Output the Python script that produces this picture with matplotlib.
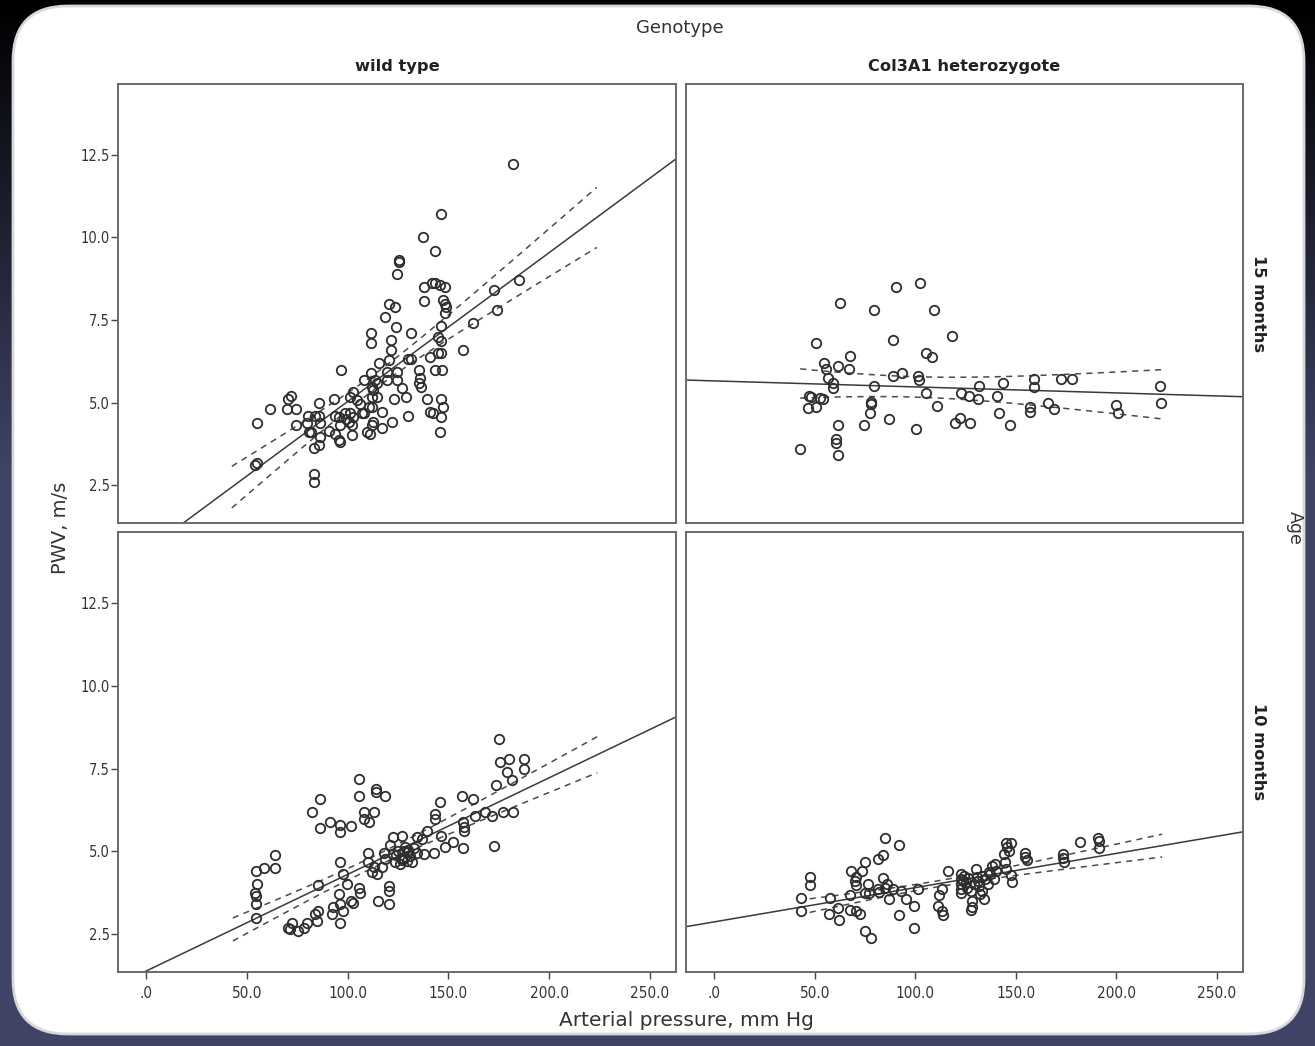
import numpy as np
import matplotlib
matplotlib.use("Agg")
import matplotlib.pyplot as plt
from matplotlib.patches import FancyBboxPatch

# PWV vs arterial pressure, split by genotype (columns) and age (rows)

# wild type, 15 months
wt15_x = [146.2, 137.6, 143.4, 125.7, 125.7, 124.7, 138.1, 141.8, 143.4, 145.6, 148.4, 138.1, 147.5,
          148.4, 148.7, 148.4, 120.3, 123.6, 118.6, 123.9, 111.5, 111.5, 131.4, 162.4, 157.5, 146.4,
          145.0, 146.4, 121.4, 121.4, 120.3, 115.6, 130.2, 131.4, 140.9, 145.0, 146.4, 96.8, 111.5,
          119.4, 124.4, 119.4, 124.4, 135.2, 136.0, 135.2, 136.5, 143.4, 146.7, 107.9, 113.7, 114.5,
          126.9, 128.9, 123.1, 139.6, 146.4, 147.5, 146.4, 140.9, 142.6, 145.9, 130.2, 116.9, 121.9,
          116.9, 111.2, 109.5, 102.1, 102.1, 100.5, 96.3, 96.3, 95.5, 90.8, 93.8, 86.4, 86.4, 85.9,
          83.5, 80.6, 81.9, 79.7, 84.0, 85.6, 80.2, 74.3, 85.6, 93.0, 93.8, 95.5, 99.1, 101.3, 102.9,
          104.6, 106.2, 107.1, 110.4, 112.0, 112.0, 114.5, 112.8, 112.0, 101.3, 102.9, 98.8, 108.3,
          112.8, 112.0, 61.5, 55.2, 70.6, 71.9, 69.8, 74.3, 55.2, 54.1, 83.4, 83.4, 182.1, 185.3,
          172.9, 174.3]
wt15_y = [10.71, 10.0, 9.6, 9.32, 9.27, 8.89, 8.51, 8.61, 8.61, 8.56, 8.51, 8.08, 8.10,
          8.0, 7.9, 7.7, 8.0, 7.9, 7.6, 7.3, 7.11, 6.79, 7.11, 7.4, 6.59, 7.32,
          7.0, 6.87, 6.89, 6.59, 6.29, 6.21, 6.31, 6.31, 6.39, 6.51, 6.51, 6.0, 5.9,
          5.93, 5.93, 5.68, 5.68, 6.0, 5.73, 5.58, 5.48, 6.0, 6.0, 5.68, 5.68, 5.58,
          5.43, 5.18, 5.12, 5.12, 5.12, 4.87, 4.57, 4.72, 4.67, 4.1, 4.6, 4.72, 4.42,
          4.22, 4.06, 4.11, 4.01, 4.32, 4.42, 4.32, 3.81, 3.86, 4.13, 4.06, 4.37, 3.96, 3.71,
          3.61, 4.11, 4.11, 4.37, 4.6, 4.6, 4.6, 4.32, 5.0, 5.12, 4.6, 4.57, 4.49, 5.18, 5.33,
          5.07, 4.97, 4.67, 4.87, 4.87, 5.18, 5.18, 5.38, 5.48, 4.67, 4.57, 4.67, 4.67,
          4.42, 4.32, 4.79, 4.39, 5.12, 5.2, 4.79, 4.79, 3.18, 3.1, 2.83, 2.58, 12.23, 8.71,
          8.41, 7.8]

# Col3A1 heterozygote, 15 months
het15_x = [90.4, 102.5, 62.7, 79.7, 109.4, 88.8, 118.5, 50.5, 105.3, 108.3, 67.4, 54.6, 55.8,
           61.5, 66.9, 56.6, 59.1, 59.1, 79.7, 88.8, 93.4, 101.2, 101.7, 105.3, 47.2, 48.3,
           52.5, 54.1, 46.7, 50.8, 78.1, 78.1, 77.6, 87.1, 74.7, 61.5, 60.4, 60.4, 61.5, 42.6,
           100.3, 111.0, 122.6, 126.7, 131.3, 131.7, 143.6, 140.8, 141.9, 147.3, 122.1, 119.8,
           127.1, 158.9, 158.9, 172.6, 177.9, 165.9, 168.8, 157.3, 157.3, 199.7, 200.7, 221.6,
           222.4]
het15_y = [8.51, 8.61, 8.01, 7.80, 7.80, 6.89, 7.01, 6.81, 6.51, 6.39, 6.41, 6.21, 6.03,
           6.11, 6.01, 5.73, 5.60, 5.43, 5.50, 5.80, 5.90, 5.80, 5.68, 5.30, 5.20, 5.18,
           5.13, 5.10, 4.82, 4.87, 5.02, 4.97, 4.67, 4.49, 4.32, 4.32, 3.91, 3.78, 3.41, 3.59,
           4.19, 4.89, 5.30, 5.20, 5.10, 5.50, 5.60, 5.20, 4.69, 4.32, 4.52, 4.39,
           4.39, 5.70, 5.48, 5.70, 5.70, 4.99, 4.79, 4.85, 4.72, 4.92, 4.69, 5.50,
           4.99]

# wild type, 10 months
wt10_x = [175.2, 175.7, 180.2, 187.3, 179.0, 181.8, 187.3, 173.5, 172.9, 168.2, 171.5, 177.0, 182.3,
          162.4, 156.6, 163.2, 157.5, 158.0, 158.0, 157.5, 145.6, 143.4, 143.4, 139.3, 136.8, 134.3,
          146.4, 152.5, 148.4, 143.1, 138.1, 128.5, 130.2, 126.9, 129.3, 126.0, 131.8, 134.3, 122.7,
          127.2, 122.7, 123.5, 117.8, 118.6, 117.0, 120.6, 120.3, 115.3, 120.3, 113.3, 114.5, 112.0,
          110.0, 110.0, 105.4, 106.2, 102.9, 101.7, 97.9, 96.3, 99.6, 95.5, 96.3, 97.9, 96.3, 92.9,
          92.1, 85.5, 83.9, 84.7, 79.7, 78.1, 75.6, 72.3, 70.6, 71.5, 85.2, 54.4, 58.7, 63.7, 63.7,
          54.9, 54.1, 54.4, 54.4, 54.4, 86.4, 82.5, 86.4, 91.3, 96.3, 96.3, 101.7, 105.7, 105.7,
          114.0, 114.0, 118.3, 113.3, 107.9, 107.9, 110.7, 128.0, 130.0, 131.0, 125.0, 133.0, 124.0,
          127.0, 121.0]
wt10_y = [8.40, 7.69, 7.79, 7.79, 7.39, 7.16, 7.49, 6.99, 5.17, 6.18, 6.08, 6.18, 6.18,
          6.58, 6.68, 6.08, 5.87, 5.72, 5.62, 5.09, 6.50, 6.13, 5.98, 5.62, 5.37, 5.42,
          5.47, 5.27, 5.12, 4.96, 4.91, 5.12, 4.97, 4.81, 4.71, 4.61, 4.66, 4.96, 5.42,
          5.47, 4.91, 4.66, 4.96, 4.76, 4.51, 3.96, 3.80, 3.50, 3.40, 4.51, 4.31, 4.36,
          4.96, 4.66, 3.90, 3.75, 3.45, 3.50, 4.31, 4.66, 4.01, 3.70, 3.42, 3.20, 2.84, 3.30,
          3.10, 3.20, 3.10, 2.90, 2.84, 2.69, 2.59, 2.84, 2.69, 2.64, 3.98, 4.39, 4.49, 4.49, 4.88,
          4.0, 3.75, 3.65, 3.40, 2.97, 6.58, 6.20, 5.69, 5.89, 5.79, 5.59, 5.77, 7.19, 6.68,
          6.88, 6.78, 6.68, 6.20, 6.20, 5.98, 5.88, 5.0, 5.05, 4.85, 5.0, 5.1, 4.9,
          4.75, 5.2]

# Col3A1 heterozygote, 10 months
het10_x = [85.1, 92.1, 81.4, 84.2, 75.2, 73.6, 68.2, 70.3, 69.8, 70.3, 47.9, 47.9, 43.4, 43.4,
           57.4, 57.1, 61.5, 62.0, 67.7, 67.7, 70.3, 72.3, 76.4, 75.2, 77.2, 81.4, 82.2, 84.2,
           87.1, 88.8, 92.9, 95.4, 99.5, 101.6, 92.1, 99.5, 75.2, 78.1, 116.5, 113.5, 111.9,
           111.5, 113.5, 113.9, 122.6, 122.6, 122.6, 122.6, 122.6, 124.2, 125.1, 125.9, 127.6,
           128.4, 128.1, 127.6, 130.0, 130.8, 133.3, 134.9, 136.6, 131.7, 133.3, 134.2, 138.2,
           139.9, 139.1, 144.1, 144.6, 145.7, 144.9, 147.4, 146.5, 144.9, 147.4, 148.2, 154.8,
           154.8, 155.6, 173.3, 173.3, 173.8, 182.0, 191.1, 191.4, 191.4, 124.0, 126.0, 129.0,
           131.0, 132.0, 136.0, 137.0, 140.0, 85.0, 86.0]
het10_y = [5.40, 5.20, 4.76, 4.89, 4.66, 4.39, 4.39, 4.23, 4.09, 3.98, 4.23, 3.98, 3.58, 3.20,
           3.58, 3.10, 3.28, 2.91, 3.68, 3.22, 3.20, 3.10, 4.0, 3.75, 3.75, 3.85, 3.78, 4.19,
           3.55, 3.85, 3.80, 3.55, 3.35, 3.85, 3.07, 2.67, 2.59, 2.37, 4.39, 3.85, 3.68,
           3.35, 3.20, 3.07, 4.31, 4.16, 4.01, 3.85, 3.75, 4.26, 4.06, 3.90, 3.80,
           3.50, 3.30, 3.22, 4.46, 4.21, 4.26, 4.16, 4.36, 3.95, 3.80, 3.55, 4.56,
           4.61, 4.16, 4.91, 4.66, 5.14, 5.24, 5.24, 5.01, 4.46, 4.29, 4.06, 4.96,
           4.83, 4.73, 4.91, 4.79, 4.66, 5.27, 5.40, 5.30, 5.10, 4.1, 4.2, 4.0,
           4.1, 3.7, 4.0, 4.3, 4.4, 3.9, 4.0]

# fit line (intercept, slope)
fit_params = {
    "wt15": (0.52, 0.0451),
    "het15": (5.655, -0.00182),
    "wt10": (1.38, 0.0292),
    "het10": (2.865, 0.01035),
}
# 95% CI band of the mean: x range, centre, min half width, growth
band_params = {
    "wt15": (42.5, 223.7, 115, 0.23, 0.0081),
    "het15": (42.8, 222.8, 100, 0.31, 0.00553),
    "wt10": (43.0, 224.0, 110, 0.17, 0.00454),
    "het10": (47.5, 222.8, 110, 0.09, 0.00295),
}

col_titles = ["wild type", "Col3A1 heterozygote"]
row_titles = ["15 months", "10 months"]
x_ticks = [0, 50, 100, 150, 200, 250]
x_ticklabels = [".0", "50.0", "100.0", "150.0", "200.0", "250.0"]
y_ticks = [2.5, 5.0, 7.5, 10.0, 12.5]
y_ticklabels = ["2.5", "5.0", "7.5", "10.0", "12.5"]

W, H = 1315, 1046
fig = plt.figure(figsize=(W / 100, H / 100), dpi=100)

# slide-like background with a white rounded card
bg = fig.add_axes([0, 0, 1, 1], zorder=-10)
grad = np.linspace(0, 1, 256).reshape(-1, 1)
grad = np.clip(grad * 2.2, 0, 1)
top_c = np.array([0.0, 0.0, 0.0])
bot_c = np.array([0.25, 0.27, 0.40])
img = top_c + grad[..., None] * (bot_c - top_c)
bg.imshow(img, extent=[0, W, H, 0], aspect="auto")
card = FancyBboxPatch((13, 6), W - 24, H - 12 - 6,
                      boxstyle="round,pad=0,rounding_size=55",
                      facecolor="white", edgecolor="#d8d8dc", linewidth=2)
bg.add_patch(card)
bg.set_xlim(0, W)
bg.set_ylim(H, 0)
bg.axis("off")

txt_c = "#333333"
spine_c = "#6a6a6a"
tick_font = dict(family="DejaVu Sans", fontstretch="condensed")


def panel_rect(px_left, px_top, px_right, px_bottom):
    return [px_left / W, 1 - px_bottom / H, (px_right - px_left) / W, (px_bottom - px_top) / H]


rects = {
    "wt15": panel_rect(118, 84, 676, 523),
    "het15": panel_rect(686, 84, 1243, 523),
    "wt10": panel_rect(118, 532, 676, 972),
    "het10": panel_rect(686, 532, 1243, 972),
}
data = {
    "wt15": (wt15_x, wt15_y),
    "het15": (het15_x, het15_y),
    "wt10": (wt10_x, wt10_y),
    "het10": (het10_x, het10_y),
}
xlim = (-14, 263)
ylim = (1.35, 14.65)

for key in ["wt15", "het15", "wt10", "het10"]:
    ax = fig.add_axes(rects[key])
    xs, ys = data[key]
    ax.plot(xs, ys, linestyle="none", marker="o", markersize=6.8,
            markerfacecolor="none", markeredgecolor="#2e2e2e", markeredgewidth=1.3, zorder=3)

    b0, b1 = fit_params[key]
    lx = np.array(xlim)
    ax.plot(lx, b0 + b1 * lx, color="#3a3a3a", linewidth=1.1, zorder=2)

    x0, x1, xc, a, b = band_params[key]
    bx = np.linspace(x0, x1, 60)
    hw = np.sqrt(a ** 2 + (b * (bx - xc)) ** 2)
    for sgn in (1, -1):
        ax.plot(bx, b0 + b1 * bx + sgn * hw, color="#4a4a4a", linewidth=1.1,
                dashes=(4, 3.5), zorder=2)

    ax.set_xlim(xlim)
    ax.set_ylim(ylim)
    for s in ax.spines.values():
        s.set_color(spine_c)
        s.set_linewidth(1.4)

    is_left = key.startswith("wt")
    is_bottom = key.endswith("10")
    if is_left:
        ax.set_yticks(y_ticks)
        ax.set_yticklabels(y_ticklabels, fontsize=10.5, color=txt_c, **tick_font)
        ax.tick_params(axis="y", length=5, width=1, color="#444444", pad=1)
    else:
        ax.set_yticks([])
    if is_bottom:
        ax.set_xticks(x_ticks)
        ax.set_xticklabels(x_ticklabels, fontsize=11, color=txt_c, **tick_font)
        ax.tick_params(axis="x", length=5, width=1, color="#444444", pad=5)
    else:
        ax.set_xticks([])

    if not is_bottom:
        ax.text(0.5, 1.041, col_titles[0 if is_left else 1], transform=ax.transAxes,
                ha="center", va="center", fontsize=11.7, fontweight="bold", color="#222222")
    if not is_left:
        ax.text(1.027, 0.5, row_titles[1 if is_bottom else 0], transform=ax.transAxes,
                ha="center", va="center", rotation=-90, fontsize=11.7,
                fontweight="bold", color="#222222")

fig.text(680 / W, 1 - 28 / H, "Genotype", ha="center", va="center", fontsize=13, color=txt_c)
fig.text(1295 / W, 1 - 528 / H, "Age", ha="center", va="center", rotation=-90,
         fontsize=12.5, color=txt_c)
fig.text(60 / W, 1 - 528 / H, "PWV, m/s", ha="center", va="center", rotation=90,
         fontsize=14, color=txt_c)
fig.text(686 / W, 1 - 1020 / H, "Arterial pressure, mm Hg", ha="center", va="center",
         fontsize=14.5, color=txt_c)

fig.savefig("out.png", dpi=100)
